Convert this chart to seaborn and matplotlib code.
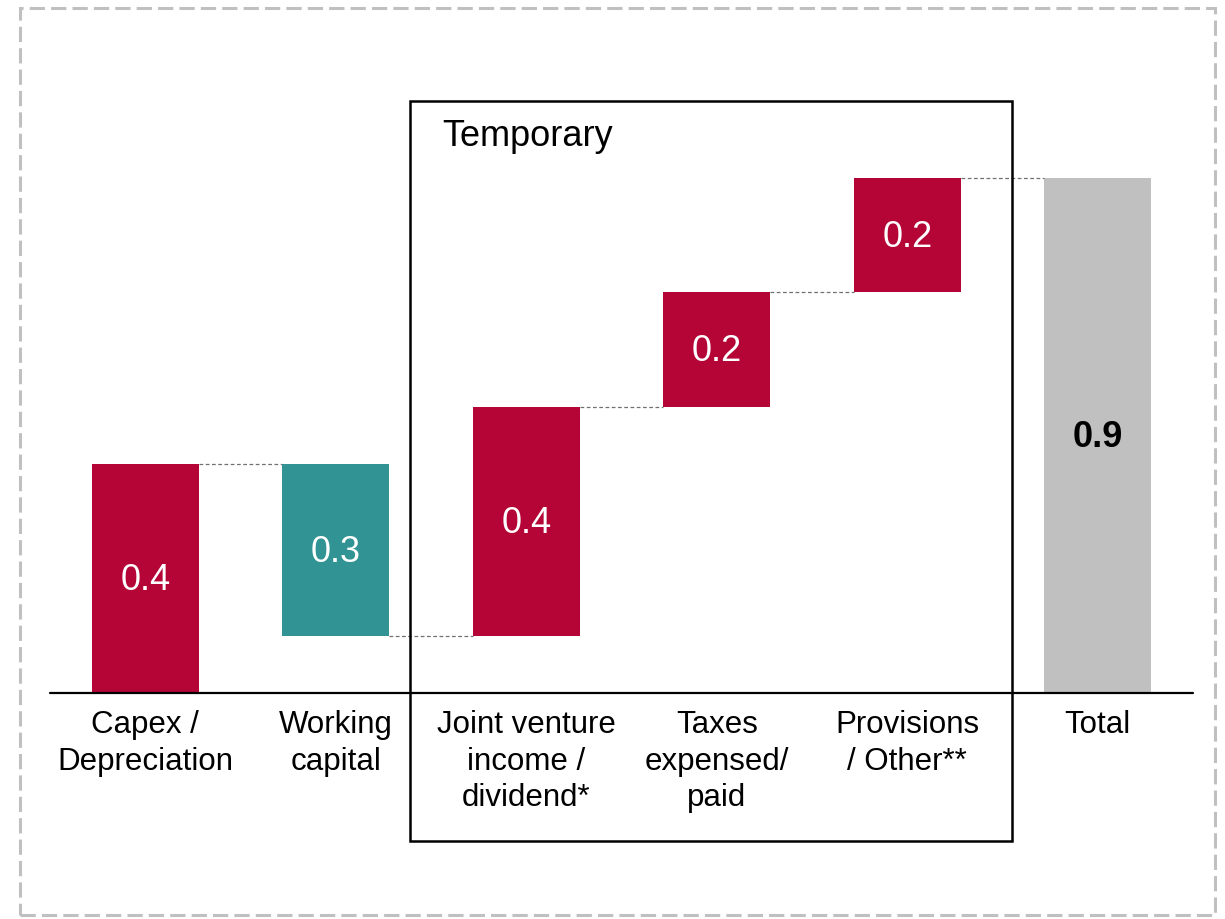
import numpy as np
import pandas as pd
import seaborn as sns
import matplotlib.pyplot as plt
from matplotlib.patches import Rectangle

# waterfall data
categories = ["Capex /\nDepreciation", "Working\ncapital", "Joint venture\nincome /\ndividend*",
              "Taxes\nexpensed/\npaid", "Provisions\n/ Other**", "Total"]
deltas = [0.4, -0.3, 0.4, 0.2, 0.2]
total = 0.9
value_labels = ["0.4", "0.3", "0.4", "0.2", "0.2", "0.9"]
bar_colors = ["#B40536", "#319393", "#B40536", "#B40536", "#B40536", "#C0C0C0"]

# floating bar geometry from the running sum
ends = np.cumsum(deltas)
starts = ends - np.array(deltas)
bottoms = list(np.minimum(starts, ends)) + [0.0]
heights = list(np.abs(deltas)) + [total]

df = pd.DataFrame({"category": categories, "height": heights, "bottom": bottoms})

sns.set_style("white")
plt.rcParams["font.family"] = ["Liberation Sans", "DejaVu Sans"]
plt.rcParams["text.color"] = "black"
plt.rcParams["xtick.color"] = "black"

fig = plt.figure(figsize=(12.25, 9.19), dpi=100)
ax = fig.add_axes([50 / 1225, 1 - 693 / 919, 1143 / 1225, 572.5 / 919])

width = 0.56
sns.barplot(data=df, x="category", y="height", bottom=df["bottom"].values,
            color=bar_colors[0], width=width, ax=ax, linewidth=0)
for patch, c in zip(ax.patches, bar_colors):
    patch.set_facecolor(c)
    patch.set_edgecolor("none")

ax.set_xlim(-0.5, 5.5)
ax.set_ylim(0, 1.0)

# value labels
for i, (b, h, lab) in enumerate(zip(bottoms, heights, value_labels)):
    last = i == len(heights) - 1
    ax.text(i, b + h / 2 - 0.004, lab, ha="center", va="center", fontsize=26,
            color="black" if last else "white", fontweight="bold" if last else "normal")

# dashed connectors between bars
for i, lvl in enumerate(ends):
    ax.plot([i + width / 2, i + 1 - width / 2], [lvl, lvl], color="#707070",
            linestyle=(0, (3, 2)), linewidth=0.9)

# baseline
ax.axhline(0, color="black", linewidth=1.6, clip_on=False, zorder=4)

sns.despine(ax=ax, left=True, bottom=True)
ax.set_yticks([])
ax.set_xlabel("")
ax.set_ylabel("")
ax.tick_params(axis="x", length=0, pad=12, labelsize=22.5, labelcolor="black")
for t in ax.get_xticklabels():
    t.set_linespacing(1.3)

# "Temporary" box
ax.add_patch(Rectangle((1.39, -0.2585), 3.16, 1.2925, fill=False, edgecolor="black",
                       linewidth=1.8, clip_on=False, zorder=5))
ax.text(1.56, 0.972, "Temporary", fontsize=26, ha="left", va="center", color="black",
        clip_on=False)

# dashed frame around the figure
fig.patches.append(Rectangle((20 / 1225, 1 - 915 / 919), 1195 / 1225, 907 / 919,
                             transform=fig.transFigure, fill=False, edgecolor="#C0C0C0",
                             linewidth=2.2, linestyle=(0, (5, 2))))

fig.savefig("out.png", dpi=100)
